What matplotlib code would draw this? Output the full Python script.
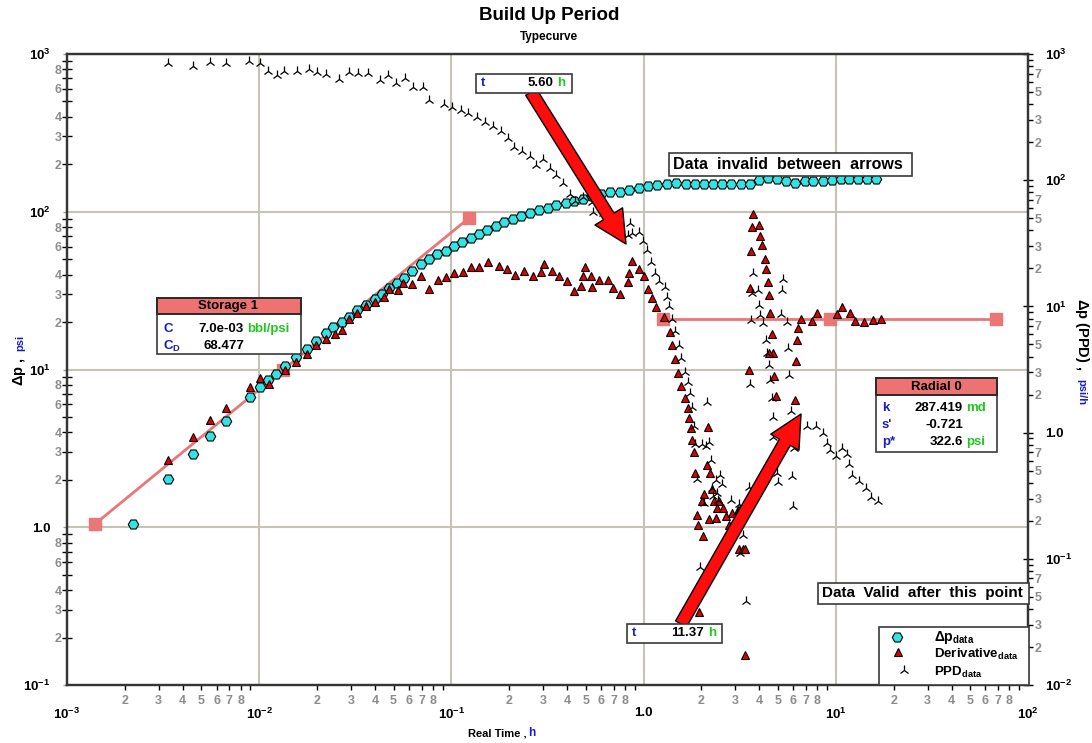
import matplotlib
matplotlib.use('Agg')
import matplotlib.pyplot as plt
from matplotlib.patches import Rectangle, FancyArrowPatch
from matplotlib.lines import Line2D
from matplotlib.ticker import FixedLocator, FixedFormatter

plt.rcParams['font.family'] = ['Liberation Sans', 'DejaVu Sans']
plt.rcParams['font.weight'] = 'bold'
plt.rcParams['mathtext.fontset'] = 'custom'
plt.rcParams['mathtext.rm'] = 'Liberation Sans:bold'
plt.rcParams['mathtext.bf'] = 'Liberation Sans:bold'
plt.rcParams['mathtext.it'] = 'Liberation Sans:bold:italic'
plt.rcParams['axes.unicode_minus'] = False

# ---- data ----
# pressure change (left axis, psi)
dp_t = [0.00220, 0.00335, 0.00452, 0.00555, 0.00672, 0.00896, 0.0101, 0.0111, 0.0122, 0.0136,
        0.0155, 0.0177, 0.0198, 0.0223, 0.0242, 0.0270, 0.0293, 0.0323, 0.0360, 0.0400,
        0.0436, 0.0474, 0.0521, 0.0567, 0.0624, 0.0695, 0.0765, 0.0842, 0.0937, 0.103,
        0.114, 0.127, 0.139, 0.153, 0.171, 0.188, 0.209, 0.230, 0.256, 0.286,
        0.318, 0.350, 0.395, 0.434, 0.484, 0.539, 0.600, 0.669, 0.754, 0.840,
        0.947, 1.05, 1.17, 1.32, 1.47, 1.66, 1.85, 2.06, 2.30, 2.56,
        2.85, 3.21, 3.58, 3.99, 4.44, 4.95, 5.51, 6.13, 6.92, 7.61,
        8.58, 9.56, 10.6, 11.7, 13.1, 14.5, 16.2]
dp_v = [1.05, 2.02, 2.91, 3.79, 4.72, 6.69, 7.74, 8.58, 9.36, 10.5,
        12.0, 13.5, 15.2, 17.0, 18.6, 20.0, 21.5, 23.8, 25.6, 28.0,
        30.1, 32.9, 35.3, 38.0, 42.1, 46.7, 50.2, 54.0, 56.4, 60.7,
        64.3, 68.2, 72.3, 76.6, 81.2, 86.1, 89.9, 94.0, 98.2, 102.6,
        105.6, 110.4, 113.6, 117.0, 120.4, 125.9, 129.6, 133.5, 133.5, 137.4,
        141.5, 145.6, 147.8, 149.9, 152.2, 149.9, 149.9, 149.9, 149.9, 149.9,
        149.9, 149.9, 149.9, 159.0, 163.7, 161.3, 156.6, 152.2, 156.6, 156.6,
        156.6, 159.0, 161.3, 161.3, 161.3, 161.3, 161.3]

# derivative (left axis, psi)
der_t = [0.00335, 0.00452, 0.00555, 0.00672, 0.00896, 0.0101, 0.0113, 0.0136, 0.0155, 0.0177,
         0.0198, 0.0223, 0.0248, 0.0270, 0.0293, 0.0323, 0.0360, 0.0400, 0.0446, 0.0474,
         0.0528, 0.0560, 0.0624, 0.0695, 0.0765, 0.0852, 0.0937, 0.103, 0.115, 0.127,
         0.139, 0.155, 0.177, 0.195, 0.214, 0.239, 0.266, 0.293, 0.303, 0.334,
         0.363, 0.400, 0.434, 0.472, 0.484, 0.496, 0.533, 0.539, 0.586, 0.653,
         0.693, 0.754, 0.830, 0.840, 0.870, 0.947, 1.005, 1.054, 1.106, 1.160,
         1.277, 1.372, 1.405, 1.457, 1.510, 1.565, 1.642, 1.702, 1.723, 1.765,
         1.786, 1.829, 1.851, 2.163, 2.137, 2.215, 2.269, 2.062, 2.014, 2.324,
         2.468, 2.410, 2.589, 1.896, 1.919, 2.189, 2.381, 2.684, 2.884, 3.098,
         3.173, 2.038, 2.782, 3.136, 3.290, 3.370, 1.942, 3.370,
         3.708, 3.664, 3.985, 4.033, 4.130, 3.621, 4.282, 4.334, 4.439, 3.578,
         4.492, 4.546, 4.656, 4.713, 3.534, 4.770, 4.886, 6.134, 6.208, 6.283,
         6.359, 6.591, 7.520, 7.984, 10.14, 10.77, 11.86, 12.59, 14.03, 15.62,
         17.19, 4.492]
der_v = [2.68, 3.75, 4.81, 5.74, 7.80, 8.77, 8.15, 10.0, 11.2, 12.6,
         14.2, 15.7, 16.9, 17.9, 20.8, 22.7, 25.1, 26.6, 28.7, 32.2,
         31.7, 35.2, 34.6, 39.0, 32.2, 36.7, 38.4, 40.7, 41.3, 44.4,
         44.4, 47.8, 45.1, 43.1, 39.5, 41.9, 39.0, 41.3, 46.4, 41.9,
         39.0, 36.2, 31.3, 33.7, 39.0, 44.4, 39.0, 33.2, 36.7, 36.7,
         32.7, 29.9, 35.7, 40.7, 48.5, 43.1, 39.0, 32.2, 28.2, 24.8,
         21.4, 17.2, 14.2, 11.7, 9.57, 7.91, 6.64, 5.74, 4.96, 4.28,
         3.59, 3.02, 2.22, 4.35, 2.49, 2.22, 1.76, 1.63, 1.47, 1.47,
         1.47, 1.33, 1.33, 1.20, 1.04, 1.13, 1.15, 1.18, 1.24, 1.29,
         1.31, 0.883, 1.04, 0.730, 0.730, 0.730, 0.291, 0.155,
         96.4, 79.7, 82.1, 69.9, 61.3, 56.1, 49.9, 43.1, 35.7, 32.7,
         29.5, 22.7, 16.9, 12.8, 10.0, 9.16, 6.84, 6.45, 11.4, 15.3,
         18.2, 20.8, 20.2, 22.7, 22.4, 24.8, 22.7, 20.2, 20.0, 20.5,
         20.8, 12.8]

# primary pressure derivative (right axis, psi/h)
ppd_t = [0.00335, 0.00452, 0.00555, 0.00672, 0.00885, 0.0101, 0.0111, 0.0124, 0.0135, 0.0157,
         0.0182, 0.0200, 0.0223, 0.0260, 0.0293, 0.0327, 0.0368, 0.0425, 0.0468, 0.0515,
         0.0574, 0.0631, 0.0712, 0.0765, 0.0915, 0.101, 0.112, 0.122, 0.136, 0.150,
         0.165, 0.181, 0.197, 0.212, 0.233, 0.256, 0.276, 0.300, 0.326, 0.350,
         0.381, 0.414, 0.440, 0.484, 0.539, 0.545, 0.615, 0.677, 0.850, 0.830,
         0.870, 0.947, 0.993, 1.042, 1.093, 1.146, 1.203, 1.292, 1.323, 1.356,
         1.405, 1.457, 1.529, 1.565, 1.642, 1.702, 1.744, 1.786, 1.829, 1.851,
         2.014, 2.112, 2.189, 2.137, 1.896, 2.242, 2.269, 2.381, 2.498, 2.558,
         2.410, 2.297, 2.062, 2.439, 2.849, 3.136, 3.062, 3.534, 1.966, 3.290,
         3.173, 3.410,
         3.708, 3.937, 3.664, 3.985, 4.033, 3.621, 4.181, 5.314, 5.250, 5.188,
         5.572, 4.334, 5.640, 4.385, 4.492, 5.707, 4.546, 3.578, 4.656, 5.846,
         4.713, 4.713, 4.945, 5.005, 6.060, 5.917, 5.988, 7.084, 7.889, 8.579,
         9.000, 9.328, 10.02, 10.77, 11.44, 11.71, 12.14, 13.21, 14.36, 15.25,
         16.58]
ppd_v = [849, 803, 864, 849, 880, 849, 733, 682, 733, 733,
         760, 720, 694, 634, 720, 707, 707, 622, 682, 589,
         645, 548, 548, 432, 402, 380, 360, 341, 317, 289,
         269, 245, 216, 183, 170, 156, 132, 147, 125, 110,
         95.0, 77.7, 68.4, 73.6, 67.2, 56.0, 55.0, 45.0, 45.8, 36.8,
         38.2, 38.9, 33.0, 28.0, 22.5, 18.4, 15.9, 14.2, 11.9, 10.1,
         7.95, 6.38, 4.94, 3.90, 3.02, 2.52, 2.06, 1.60, 1.13, 0.812,
         0.812, 0.783, 0.842, 1.75, 0.429, 0.607, 0.364, 0.421, 0.461, 0.391,
         0.332, 0.315, 0.277, 0.292, 0.292, 0.272, 0.235, 0.371, 0.0861, 0.154,
         0.111, 0.0463,
         18.4, 13.5, 12.8, 10.3, 8.55, 7.80, 7.39, 16.5, 13.5, 8.71,
         7.52, 5.42, 4.68, 4.27, 3.43, 2.86, 2.61, 2.43, 1.88, 1.48,
         1.33, 0.923, 0.478, 0.406, 0.755, 0.453, 0.262, 1.13, 1.13, 0.993,
         0.827, 0.728, 0.653, 0.755, 0.677, 0.564, 0.461, 0.414, 0.364, 0.309,
         0.287]

# analysis lines (unit slope storage, radial flow)
storage_t = [0.00140, 0.0133, 0.1235]
storage_v = [1.05, 9.93, 91.3]
radial_t = [1.262, 9.33, 68.1]
radial_v = [20.9, 20.9, 20.9]

W, H = 1092, 743


def fx(px):
    return px / W


def fy(py):
    return 1 - py / H


fig = plt.figure(figsize=(W / 100, H / 100), dpi=100)
ax = fig.add_axes([fx(67), fy(685), 961 / W, 631 / H])
ax2 = ax.twinx()

grid_c = '#c6c2b6'
minor_c = '#8c8c8c'
pink = '#ea7676'

ax.set_xscale('log')
ax.set_yscale('log')
ax2.set_yscale('log')
ax.set_xlim(1e-3, 1e2)
ax.set_ylim(1e-1, 1e3)
ax2.set_ylim(1e-2, 1e3)


def major_lbl(e):
    if e == 0:
        return '1.0'
    return r'$10^{%d}$' % e


def set_log_ticks(axis, lo, hi, show):
    axis.set_major_locator(FixedLocator([10.0 ** e for e in range(lo, hi + 1)]))
    axis.set_major_formatter(FixedFormatter([major_lbl(e) for e in range(lo, hi + 1)]))
    mins, labs = [], []
    for e in range(lo, hi):
        for m in range(2, 10):
            mins.append(m * 10.0 ** e)
            labs.append(str(m) if m in show else '')
    axis.set_minor_locator(FixedLocator(mins))
    axis.set_minor_formatter(FixedFormatter(labs))


set_log_ticks(ax.xaxis, -3, 2, [2, 3, 4, 5, 6, 7, 8])
set_log_ticks(ax.yaxis, -1, 3, [2, 3, 4, 6, 8])
set_log_ticks(ax2.yaxis, -2, 3, [2, 3, 5, 7])

ax.tick_params(axis='x', which='minor', direction='out', length=3.5, width=1,
               color='black', labelcolor=minor_c, labelsize=9, pad=3.5)
ax.tick_params(axis='x', which='major', direction='out', length=0, labelsize=9.5, pad=16)
ax.tick_params(axis='y', which='minor', direction='inout', length=6.5, width=1,
               color='black', labelcolor=minor_c, labelsize=9, pad=0.5)
ax.tick_params(axis='y', which='major', direction='out', length=3, width=1,
               color='#9a9a9a', labelsize=9.5, pad=9)
ax2.tick_params(axis='y', which='minor', direction='out', length=3.6, width=1,
                color='black', labelcolor=minor_c, labelsize=9, pad=1)
ax2.tick_params(axis='y', which='major', direction='inout', length=7.2, width=1,
                color='black', labelsize=9.5, pad=8.5)

ax.grid(True, which='major', color=grid_c, lw=1.5)
ax.set_axisbelow(True)
for a in (ax, ax2):
    for s in a.spines.values():
        s.set_color('#353535')
        s.set_linewidth(1.6)
ax.spines['bottom'].set_color('#5e5b52')

# data
ax.plot(storage_t, storage_v, '-s', color=pink, lw=2, ms=9, mec=pink, zorder=2)
ax.plot(radial_t, radial_v, '-s', color=pink, lw=2, ms=9, mec=pink, zorder=2)
ax.plot(dp_t, dp_v, 'H', ls='none', ms=7.5, mfc='#33e3e3', mec='black', mew=0.8, zorder=3)
ax.plot(der_t, der_v, '^', ls='none', ms=5.5, mfc='#dd0000', mec='black', mew=0.8, zorder=4)
ax2.plot(ppd_t, ppd_v, '2', ls='none', ms=7.5, color='black', mew=0.9)

# titles and axis labels
blue = '#1a1acc'
green = '#1ec81e'
fig.text(fx(549), fy(16), 'Build Up Period', ha='center', va='center', fontsize=13.5)
fig.text(fx(549), fy(37), 'Typecurve', ha='center', va='center', fontsize=8.5)
fig.text(fx(497), fy(733), 'Real Time ,', ha='center', va='center', fontsize=8)
fig.text(fx(528), fy(733), 'h', ha='left', va='center', fontsize=8.5, color=blue)
fig.text(fx(19), fy(372), r'$\Delta$p ,', rotation=90, ha='center', va='center', fontsize=10.5)
fig.text(fx(20), fy(343), 'psi', rotation=90, ha='center', va='center', fontsize=8, color=blue)
fig.text(fx(1082), fy(334), r'$\Delta$p (PPD) ,', rotation=270, ha='center', va='center', fontsize=10.5)
fig.text(fx(1081), fy(392), 'psi/h', rotation=270, ha='center', va='center', fontsize=8, color=blue)


def box(x0, y0, x1, y1, z=5, fc='white', lw=1.2, ec='#3a3a3a'):
    fig.add_artist(Rectangle((fx(x0), fy(y1)), (x1 - x0) / W, (y1 - y0) / H,
                             transform=fig.transFigure, fc=fc, ec=ec, lw=lw, zorder=z))


def txt(x, y, s, ha='left', color='black', size=9, z=6):
    fig.text(fx(x), fy(y), s, ha=ha, va='center', color=color, fontsize=size, zorder=z)


def arrow(x0, y0, x1, y1):
    fig.add_artist(FancyArrowPatch((fx(x0), fy(y0)), (fx(x1), fy(y1)),
                                   transform=fig.transFigure, shrinkA=0, shrinkB=0,
                                   arrowstyle='simple,head_length=2.6,head_width=2.6,tail_width=1.0',
                                   mutation_scale=9, fc='#ff0d0d', ec='black', lw=1, zorder=4))


# arrows and time boxes
arrow(531, 92, 626, 244)
arrow(681, 624, 801, 414)
box(476, 74, 572, 93)
txt(481, 83.5, 't', color=blue, size=9.5)
txt(553, 83.5, '5.60', ha='right', size=9.5)
txt(557, 83.5, 'h', color=green, size=9.5)
box(627, 624, 722, 643)
txt(632, 633.5, 't', color=blue, size=9.5)
txt(704, 633.5, '11.37', ha='right', size=9.5)
txt(708, 633.5, 'h', color=green, size=9.5)

box(669, 153, 912, 176)
txt(673, 164.5, 'Data  invalid  between  arrows', size=11.5)
box(818, 583, 1029, 604)
txt(822, 593.5, 'Data  Valid  after  this  point', size=11)

# storage box
box(157, 298, 301, 354)
box(157, 298, 301, 314, z=5.5, fc='#ee7272', lw=1.4, ec='#2a2a2a')
txt(228, 306.5, 'Storage 1', ha='center', size=9.5)
txt(163, 329, 'C', color=blue, size=9.5)
txt(244, 329, '7.0e-03', ha='right', size=9.5)
txt(247, 329, 'bbl/psi', color=green, size=9.5)
txt(163, 346, r'C$_{\mathrm{D}}$', color=blue, size=9.5)
txt(244, 346, '68.477', ha='right', size=9.5)

# radial box
box(876, 378, 997, 452)
box(876, 378, 997, 395, z=5.5, fc='#ee7272', lw=1.4, ec='#2a2a2a')
txt(936, 387, 'Radial 0', ha='center', size=9.5)
txt(882, 408.5, 'k', color=blue, size=9.5)
txt(963, 408.5, '287.419', ha='right', size=9.5)
txt(966, 408.5, 'md', color=green, size=9.5)
txt(882, 425.5, "s'", color=blue, size=9.5)
txt(963, 425.5, '-0.721', ha='right', size=9.5)
txt(882, 442, 'p*', color=blue, size=9.5)
txt(963, 442, '322.6', ha='right', size=9.5)
txt(966, 442, 'psi', color=green, size=9.5)

# legend
box(879, 627, 1029, 685)
fig.add_artist(Line2D([fx(897)], [fy(637)], marker='H', ms=7.5, mfc='#33e3e3', mec='black',
                      mew=0.8, transform=fig.transFigure, zorder=6))
fig.add_artist(Line2D([fx(898)], [fy(652)], marker='^', ms=5.5, mfc='#dd0000', mec='black',
                      mew=0.8, transform=fig.transFigure, zorder=6))
fig.add_artist(Line2D([fx(904)], [fy(670)], marker='2', ms=7.5, color='black',
                      mew=0.9, transform=fig.transFigure, zorder=6))
txt(934, 638, r'$\Delta$p$_{\mathrm{data}}$', size=10)
txt(934, 654, r'Derivative$_{\mathrm{data}}$', size=9.5)
txt(934, 672, r'PPD$_{\mathrm{data}}$', size=9.5)

fig.savefig('out.png', dpi=100)
